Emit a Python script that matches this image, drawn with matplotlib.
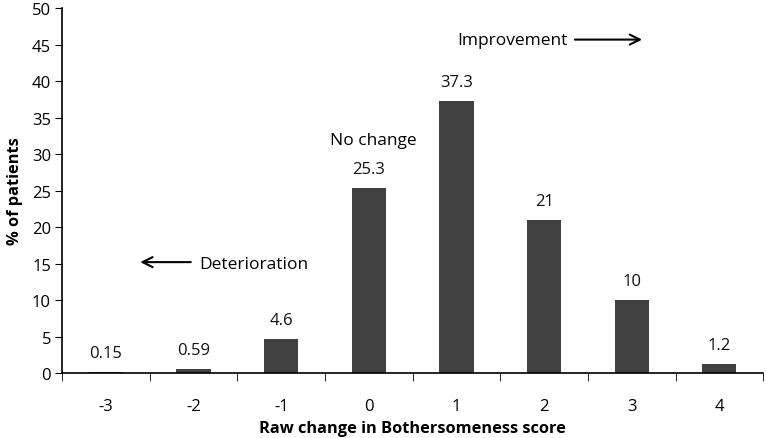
import matplotlib
matplotlib.use('Agg')
import matplotlib.pyplot as plt

categories = ['-3', '-2', '-1', '0', '1', '2', '3', '4']
percent = [0.15, 0.59, 4.6, 25.3, 37.3, 21, 10, 1.2]
value_labels = ['0.15', '0.59', '4.6', '25.3', '37.3', '21', '10', '1.2']

plt.rcParams['font.family'] = ['Open Sans', 'DejaVu Sans']

fig = plt.figure(figsize=(7.67, 4.39), dpi=100)
ax = fig.add_axes([0.081, 0.148, 0.914, 0.831])

x = list(range(len(categories)))
ax.bar(x, percent, width=0.39, color='#404040', zorder=2)

for xi, v, lab in zip(x, percent, value_labels):
    ax.annotate(lab, (xi, v), xytext=(0, 8), textcoords='offset points',
                ha='center', va='bottom', fontsize=12, color='#111111')

ax.set_xlim(-0.5, 7.5)
ax.set_ylim(0, 50)
ax.set_yticks(range(0, 51, 5))
ax.set_xticks(x)
ax.set_xticklabels(categories)
ax.set_xticks([i - 0.5 for i in range(len(categories) + 1)], minor=True)
ax.tick_params(axis='x', which='major', length=0, pad=18, labelsize=12)
ax.tick_params(axis='x', which='minor', length=6, direction='out')
ax.tick_params(axis='y', length=5, labelsize=12, pad=3)

for s in ['top', 'right']:
    ax.spines[s].set_visible(False)
ax.spines['left'].set_linewidth(1.2)
ax.spines['bottom'].set_linewidth(1.2)

ax.set_xlabel('Raw change in Bothersomeness score', fontsize=11.8, fontweight='bold', labelpad=4)
ax.set_ylabel('% of patients', fontsize=11.8, fontweight='bold', labelpad=6)

# direction notes
ax.text(4.01, 45.7, 'Improvement', fontsize=12.5, ha='left', va='center')
ax.annotate('', xy=(6.15, 45.7), xytext=(5.32, 45.7),
            arrowprops=dict(arrowstyle='->', lw=1.5, color='black', mutation_scale=18))
ax.text(3.05, 32.0, 'No change', fontsize=12.5, ha='center', va='center')
ax.text(1.06, 14.9, 'Deterioration', fontsize=12.5, ha='left', va='center')
ax.annotate('', xy=(0.36, 15.2), xytext=(1.0, 15.2),
            arrowprops=dict(arrowstyle='->', lw=1.5, color='black', mutation_scale=18))

fig.savefig('out.png', dpi=100)
